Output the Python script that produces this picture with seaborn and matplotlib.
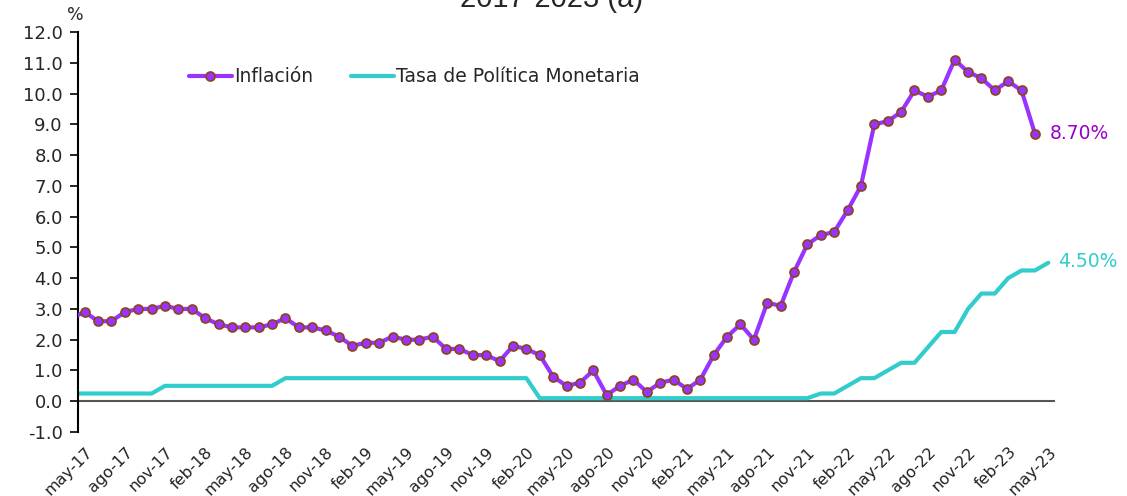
import numpy as np
import pandas as pd
import seaborn as sns
import matplotlib.pyplot as plt

# inflacion mensual (abr-17 .. abr-23), tasa de politica monetaria (abr-17 .. may-23)
inflacion = [2.7,
             2.9, 2.6, 2.6, 2.9, 3.0, 3.0, 3.1, 3.0,
             3.0, 2.7, 2.5, 2.4, 2.4, 2.4, 2.5, 2.7, 2.4, 2.4, 2.3, 2.1,
             1.8, 1.9, 1.9, 2.1, 2.0, 2.0, 2.1, 1.7, 1.7, 1.5, 1.5, 1.3,
             1.8, 1.7, 1.5, 0.8, 0.5, 0.6, 1.0, 0.2, 0.5, 0.7, 0.3, 0.6,
             0.7, 0.4, 0.7, 1.5, 2.1, 2.5, 2.0, 3.2, 3.1, 4.2, 5.1, 5.4,
             5.5, 6.2, 7.0, 9.0, 9.1, 9.4, 10.1, 9.9, 10.1, 11.1, 10.7, 10.5,
             10.1, 10.4, 10.1, 8.7]
tasa = [0.25,
        0.25, 0.25, 0.25, 0.25, 0.25, 0.25, 0.5, 0.5,
        0.5, 0.5, 0.5, 0.5, 0.5, 0.5, 0.5, 0.75, 0.75, 0.75, 0.75, 0.75,
        0.75, 0.75, 0.75, 0.75, 0.75, 0.75, 0.75, 0.75, 0.75, 0.75, 0.75, 0.75,
        0.75, 0.75, 0.1, 0.1, 0.1, 0.1, 0.1, 0.1, 0.1, 0.1, 0.1, 0.1,
        0.1, 0.1, 0.1, 0.1, 0.1, 0.1, 0.1, 0.1, 0.1, 0.1, 0.1, 0.25,
        0.25, 0.5, 0.75, 0.75, 1.0, 1.25, 1.25, 1.75, 2.25, 2.25, 3.0, 3.5,
        3.5, 4.0, 4.25, 4.25, 4.5]
etiquetas = ["may-17", "ago-17", "nov-17", "feb-18", "may-18", "ago-18", "nov-18",
             "feb-19", "may-19", "ago-19", "nov-19", "feb-20", "may-20", "ago-20",
             "nov-20", "feb-21", "may-21", "ago-21", "nov-21", "feb-22", "may-22",
             "ago-22", "nov-22", "feb-23", "may-23"]

morado = "#9933FF"
turquesa = "#33CCCC"

df_inf = pd.DataFrame({"mes": np.arange(-1, len(inflacion) - 1), "valor": inflacion})
df_tpm = pd.DataFrame({"mes": np.arange(-1, len(tasa) - 1), "valor": tasa})

sns.set_style("white")
plt.rcParams['font.family'] = ['DejaVu Sans']

fig = plt.figure(figsize=(11.27, 4.96), dpi=100)
ax = fig.add_axes([78 / 1127, 64 / 496, 977 / 1127, 400 / 496])

sns.lineplot(data=df_tpm, x="mes", y="valor", ax=ax, color=turquesa, linewidth=3,
             label="Tasa de Política Monetaria", zorder=2)
sns.lineplot(data=df_inf, x="mes", y="valor", ax=ax, color=morado, linewidth=3,
             marker="o", markersize=6.5, markerfacecolor=morado,
             markeredgecolor="#8B4513", markeredgewidth=1.2,
             label="Inflación", zorder=3)

ax.axhline(0, color="#555555", linewidth=1.5, zorder=1)

ax.set_xlim(-0.5, 72.5)
ax.set_ylim(-1, 12)
ax.set_yticks(np.arange(-1, 13, 1))
ax.set_yticklabels([f"{v:.1f}" for v in np.arange(-1, 13, 1)], fontsize=13)
ax.set_xticks(np.arange(0, 73, 3))
ax.set_xticklabels(etiquetas, rotation=45, ha="right", rotation_mode="anchor",
                   fontsize=11.5, color="#222222")
ax.tick_params(axis="x", length=0, pad=9)
ax.tick_params(axis="y", length=6, width=1.2, direction="out", left=True, color="black", pad=5)
ax.set_xlabel("")
ax.set_ylabel("")

for s in ["top", "right", "bottom"]:
    ax.spines[s].set_visible(False)
ax.spines["left"].set_color("black")
ax.spines["left"].set_linewidth(1.5)

# etiquetas del ultimo dato
ax.text(df_inf["mes"].iloc[-1] + 1.1, inflacion[-1], f"{inflacion[-1]:.2f}%",
        color="#9900CC", fontsize=13.5, va="center", ha="left", clip_on=False)
ax.text(df_tpm["mes"].iloc[-1] + 0.7, tasa[-1] + 0.05, f"{tasa[-1]:.2f}%",
        color=turquesa, fontsize=13.5, va="center", ha="left", clip_on=False)

h, l = ax.get_legend_handles_labels()
ax.legend(h[::-1], l[::-1], ncol=2, frameon=False, fontsize=13.5,
          loc="center left", bbox_to_anchor=(172 / 1127, 1 - 77 / 496),
          bbox_transform=fig.transFigure, handlelength=2.3, handletextpad=0.1,
          columnspacing=2.0)

fig.text(75 / 1127, 1 - 15 / 496, "%", fontsize=12.5, ha="center", va="center")
fig.text(552 / 1127, 1 - 7 / 496, "2017-2023 (a)", fontsize=21,
         family=["Liberation Sans", "DejaVu Sans"], ha="center", va="baseline")

fig.savefig("out.png", dpi=100, facecolor="white")
